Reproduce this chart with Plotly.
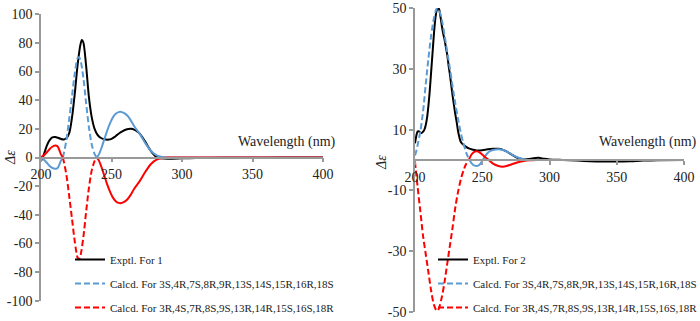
import plotly.graph_objects as go

# ---------------- data: panel 1 (compound 1) ----------------
wl_exp1 = [200, 202, 204, 206, 208, 210, 212, 214, 216, 218, 220, 222, 224, 226, 228, 229, 230, 232, 234, 236,
           238, 240, 242, 244, 246, 248, 250, 252, 254, 256, 258, 260, 262, 264, 266, 268, 270, 272, 274, 276,
           278, 280, 282, 285, 290, 300, 310, 320, 340, 360, 380, 400]
exp1 = [-2.5, 2, 8, 12, 14, 14.3, 13.8, 13, 12.6, 13.5, 17, 28, 45, 65, 79, 82, 80.5, 64, 42, 28,
        20, 16, 14, 13, 12.6, 12.5, 13, 14.2, 15.8, 17.3, 18.5, 19.4, 19.9, 20, 19.5, 18.3, 16.7, 14, 11, 7.5,
        4.5, 2, 0.3, -0.5, -0.8, -0.6, -0.4, -0.3, -0.2, -0.1, 0, 0]

wl_calc1 = [200, 202, 204, 206, 208, 210, 211, 212, 213, 214, 215.5, 216, 218, 220, 222, 224, 226, 227, 228, 230,
            232, 234, 236, 238, 239.5, 241, 243, 245, 247, 249, 251, 253, 255, 257, 259, 261, 263, 266, 270, 274,
            278, 282, 286, 290, 300, 320, 350, 400]
calcA1 = [-0.3, -1.5, -3.5, -5.8, -7.3, -7.9, -7.8, -7, -5, -2.5, 0, 2, 12, 27, 43, 59, 69.5, 70, 68, 56,
          38, 21, 9, 2.5, 0, 2, 7, 13, 19, 24, 28, 30.5, 31.7, 31.8, 31, 29.5, 27, 22, 16.5, 10,
          4.5, 1.5, 0.4, 0, 0, 0, 0, 0]
calcB1 = [0.3, 1.5, 3.5, 5.8, 7.5, 8.3, 8.2, 7.5, 5.2, 2.5, 0, -2, -12, -27, -43, -59, -70, -71, -68.5, -56,
          -38, -21, -9, -2.5, 0, -2, -7, -13, -19, -24, -28, -30.5, -31.7, -31.8, -31, -29.5, -27, -22, -16.5, -10,
          -4.5, -1.5, -0.4, 0, 0, 0, 0, 0]

# ---------------- data: panel 2 (compound 2) ----------------
wl_exp2 = [200, 201, 202, 203, 204, 205, 206, 207, 208, 209, 210, 211, 212, 213, 214, 215, 216, 217, 218, 219,
           220, 221, 222, 223, 224, 225, 226, 227, 228, 229, 230, 231, 232, 233, 234, 236, 238, 240, 243, 246,
           250, 254, 258, 262, 265, 268, 271, 274, 277, 280, 284, 288, 292, 296, 300, 310, 320, 330, 340, 350,
           360, 370, 380, 400]
exp2 = [5.5, 8, 9.4, 9.4, 9, 8.9, 9.3, 10, 11.5, 14, 18, 23, 29, 35, 41, 46, 49, 50.2, 49.5, 47,
        44, 41.5, 39.5, 37, 34.5, 31, 28, 24.5, 21, 18, 15, 12.5, 9.5, 7.5, 6, 5, 4.3, 3.8, 3.4, 3.1,
        3.2, 3.5, 3.7, 3.7, 3.4, 2.8, 2, 1.2, 0.6, 0.3, 0.3, 0.6, 0.7, 0.4, 0.2, 0, -0.2, -0.4, -0.5, -0.5,
        -0.4, -0.2, -0.1, 0]

wl_calc2 = [200, 201, 202, 204, 206, 208, 210, 212, 214, 216, 217, 218, 220, 222, 224, 226, 228, 230, 232, 234,
            236, 238, 240, 242, 244, 246, 248, 250, 252, 254, 256, 258, 262, 265, 268, 272, 276, 280, 285, 290,
            300, 350, 400]
calcA2 = [1.5, 3, 5, 9.5, 16, 25, 33.5, 41, 46.5, 49.7, 50, 49.3, 46, 41, 35.5, 30, 24, 18.5, 13.5, 9,
          5.5, 2.5, 0.3, -1, -1.8, -2, -1.6, -0.3, 1.2, 2.3, 3, 3.3, 3.5, 3.4, 2.8, 1.8, 0.9, 0.3, 0, 0,
          0, 0, 0]
calcB2 = [-0.5, -5, -9, -17, -25, -31, -37, -43, -47.5, -49.5, -49.5, -48.5, -45, -40, -34, -28, -22, -15.5, -10.5, -6.5,
          -3.5, -1.3, 0, 1.8, 2.7, 2.9, 2.5, 1.8, 1, 0.3, -0.5, -1.2, -2, -2.2, -2, -1.4, -0.8, -0.4, -0.1, 0,
          0, 0, 0]

xticks = [200, 250, 300, 350, 400]
yticks1 = [-100, -80, -60, -40, -20, 0, 20, 40, 60, 80, 100]
ylabels1 = ["-100", "-80", "-60", "-40", "-20", "0", "20", "40", "60", "80", "100"]
yticks2 = [-50, -30, -10, 10, 30, 50]
ylabels2 = ["-50", "-30", "-10", "10", "30", "50"]

name_exp1 = "Exptl. For 1"
name_exp2 = "Exptl. For 2"
name_a = "Calcd. For 3S,4R,7S,8R,9R,13S,14S,15R,16R,18S"
name_b = "Calcd. For 3R,4S,7R,8S,9S,13R,14R,15S,16S,18R"

# dashed wavelength window for the calculated curves (style)
dash_win1 = (215.5, 239.5)
dash_win2 = (200, 240)

BLACK = "#000000"
BLUE = "#5B9BD5"
RED = "#FF0000"
FONT = "Liberation Serif, Times New Roman, serif"
TXT = "#222222"
AXC = "#999999"
W, H = 700, 321


def px_x(p):
    return p / W


def px_y(p):
    return 1 - p / H


def segments(x, y, lo, hi):
    segs = []
    a = [(xi, yi) for xi, yi in zip(x, y) if xi <= lo]
    b = [(xi, yi) for xi, yi in zip(x, y) if lo <= xi <= hi]
    c = [(xi, yi) for xi, yi in zip(x, y) if xi >= hi]
    if len(a) >= 2:
        segs.append((a, "solid"))
    if len(b) >= 2:
        segs.append((b, "dashed"))
    if len(c) >= 2:
        segs.append((c, "solid"))
    return segs


fig = go.Figure()


def add_panel(xa, ya, leg, wl_e, e, name_e, wl_c, ca, cb, win):
    fig.add_trace(go.Scatter(x=wl_e, y=e, mode="lines", name=name_e, xaxis=xa, yaxis=ya,
                             line=dict(color=BLACK, width=2, shape="spline", smoothing=0.8),
                             legend=leg, legendgroup=leg + "e", showlegend=True))
    for vals, col, nm, g in ((ca, BLUE, name_a, "a"), (cb, RED, name_b, "b")):
        for pts, st in segments(wl_c, vals, *win):
            fig.add_trace(go.Scatter(
                x=[p[0] for p in pts], y=[p[1] for p in pts], mode="lines", name=nm,
                xaxis=xa, yaxis=ya, legend=leg, legendgroup=leg + g,
                showlegend=(st == "dashed"),
                line=dict(color=col, width=2, shape="spline", smoothing=0.8,
                          dash="6px,3px" if st == "dashed" else "solid")))


add_panel("x", "y", "legend", wl_exp1, exp1, name_exp1, wl_calc1, calcA1, calcB1, dash_win1)
add_panel("x2", "y2", "legend2", wl_exp2, exp2, name_exp2, wl_calc2, calcA2, calcB2, dash_win2)

tickfont = dict(family=FONT, size=14, color=TXT)
common_x = dict(range=[200, 400], tickvals=xticks, showgrid=False, zeroline=False, showline=True,
                linecolor=AXC, linewidth=1.5, ticks="outside", ticklen=4, tickcolor=AXC, tickwidth=1.5,
                tickfont=tickfont, anchor="free")
common_y = dict(showgrid=False, zeroline=False, showline=True, linecolor=AXC, linewidth=1.5,
                ticks="outside", ticklen=4, tickcolor=AXC, tickwidth=1.5, tickfont=tickfont)

y1_dom = [px_y(300.7), px_y(14.3)]
y2_dom = [px_y(312), px_y(8)]

legfont = dict(family=FONT, size=11, color=TXT)

fig.update_layout(
    width=W, height=H, margin=dict(l=0, r=0, t=0, b=0, autoexpand=False),
    paper_bgcolor="white", plot_bgcolor="rgba(0,0,0,0)",
    xaxis=dict(domain=[px_x(41), px_x(323)],
               position=y1_dom[0] + (y1_dom[1] - y1_dom[0]) * 0.5, **common_x),
    yaxis=dict(domain=y1_dom, range=[-100, 100], tickvals=yticks1, ticktext=ylabels1, anchor="x", **common_y),
    xaxis2=dict(domain=[px_x(415), px_x(684)],
                position=y2_dom[0] + (y2_dom[1] - y2_dom[0]) * 0.5, **common_x),
    yaxis2=dict(domain=y2_dom, range=[-50, 50], tickvals=yticks2, ticktext=ylabels2, anchor="x2", **common_y),
    legend=dict(x=px_x(70), y=px_y(245), xanchor="left", yanchor="top", bgcolor="rgba(0,0,0,0)",
                font=legfont, traceorder="grouped", tracegroupgap=5),
    legend2=dict(x=px_x(433), y=px_y(245), xanchor="left", yanchor="top", bgcolor="rgba(0,0,0,0)",
                 font=legfont, traceorder="grouped", tracegroupgap=5),
    showlegend=True,
    annotations=[
        dict(text="Wavelength (nm)", xref="paper", yref="paper", x=px_x(338), y=px_y(152),
             xanchor="right", yanchor="bottom", showarrow=False,
             font=dict(family=FONT, size=14, color=TXT)),
        dict(text="Wavelength (nm)", xref="paper", yref="paper", x=px_x(699), y=px_y(152),
             xanchor="right", yanchor="bottom", showarrow=False,
             font=dict(family=FONT, size=14, color=TXT)),
        dict(text="<i>Δε</i>", xref="paper", yref="paper", x=px_x(10), y=px_y(158), textangle=-90,
             xanchor="center", yanchor="middle", showarrow=False,
             font=dict(family=FONT, size=14, color=TXT)),
        dict(text="<i>Δε</i>", xref="paper", yref="paper", x=px_x(382), y=px_y(163), textangle=-90,
             xanchor="center", yanchor="middle", showarrow=False,
             font=dict(family=FONT, size=14, color=TXT)),
    ],
)

fig.write_html("out.html", config={"displayModeBar": False},
               post_script="document.body.style.margin='0';document.body.style.overflow='hidden';")
